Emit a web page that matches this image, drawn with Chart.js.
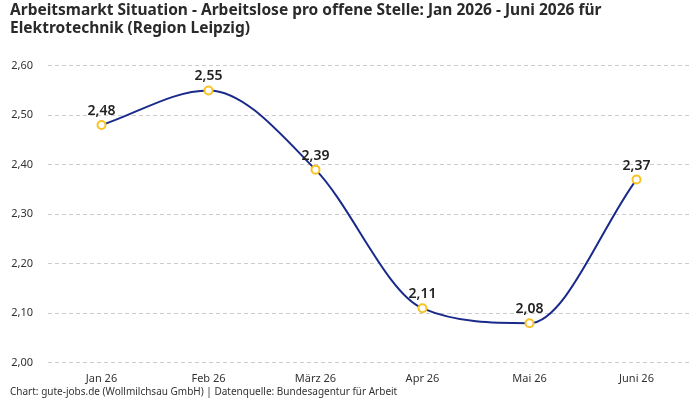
<!DOCTYPE html>
<html>
<head>
<meta charset="utf-8">
<script src="https://cdn.jsdelivr.net/npm/chart.js@4"></script>
<style>
  html, body { margin: 0; padding: 0; background: #fff; }
  #wrap { width: 700px; height: 400px; }
</style>
</head>
<body>
<div id="wrap"><canvas id="chart"></canvas></div>
<script>
// Data
const months = ['Jan 26', 'Feb 26', 'März 26', 'Apr 26', 'Mai 26', 'Juni 26'];
const ratio = [2.48, 2.55, 2.39, 2.11, 2.08, 2.37];
const yTicks = [2.0, 2.1, 2.2, 2.3, 2.4, 2.5, 2.6];

const FONT = '"Noto Sans", "DejaVu Sans", sans-serif';
const fmt = v => v.toFixed(2).replace('.', ',');

// Value labels above the points
const valueLabels = {
    id: 'valueLabels',
    afterDatasetsDraw(chart) {
        const ctx = chart.ctx;
        const meta = chart.getDatasetMeta(0);
        ctx.save();
        ctx.font = '600 14px ' + FONT;
        ctx.fillStyle = '#222';
        ctx.textAlign = 'center';
        ctx.textBaseline = 'bottom';
        meta.data.forEach((pt, i) => {
            ctx.fillText(fmt(ratio[i]), pt.x, pt.y - 7);
        });
        ctx.restore();
    }
};

new Chart(document.getElementById('chart').getContext('2d'), {
    type: 'line',
    data: {
        labels: months,
        datasets: [{
            data: ratio,
            borderColor: '#1a2a8a',
            borderWidth: 2,
            cubicInterpolationMode: 'monotone',
            fill: false,
            pointRadius: 4,
            pointBorderWidth: 2,
            pointBackgroundColor: '#ffffff',
            pointBorderColor: '#f7c325'
        }]
    },
    options: {
        responsive: true,
        maintainAspectRatio: false,
        animation: false,
        layout: { padding: { left: 10, right: 10, top: 0, bottom: 0 } },
        plugins: {
            legend: { display: false },
            tooltip: { enabled: false },
            title: {
                display: true,
                text: ['Arbeitsmarkt Situation - Arbeitslose pro offene Stelle: Jan 2026 - Juni 2026 für', 'Elektrotechnik (Region Leipzig)'],
                align: 'start',
                color: '#2a2a2a',
                font: { family: FONT, size: 15.5, weight: 'bold', lineHeight: 1.15 },
                padding: { top: 2, bottom: 28 }
            },
            subtitle: {
                display: true,
                position: 'bottom',
                text: 'Chart: gute-jobs.de (Wollmilchsau GmbH) | Datenquelle: Bundesagentur für Arbeit',
                align: 'start',
                color: '#333',
                font: { family: FONT, size: 10 },
                padding: { top: 0, bottom: 2 }
            }
        },
        scales: {
            x: {
                offset: true,
                grid: { display: false },
                border: { display: false },
                ticks: { color: '#333', font: { family: FONT, size: 11 }, padding: 1 }
            },
            y: {
                min: 2.0,
                max: 2.6,
                afterBuildTicks: axis => { axis.ticks = yTicks.map(v => ({ value: v })); },
                afterFit: axis => { axis.width = 38; },
                grid: { color: '#cccccc', tickLength: 0, drawTicks: false },
                border: { display: false, dash: [4, 3] },
                ticks: {
                    color: '#333',
                    font: { family: FONT, size: 11 },
                    padding: 15,
                    callback: v => fmt(v)
                }
            }
        }
    },
    plugins: [valueLabels]
});
</script>
</body>
</html>
